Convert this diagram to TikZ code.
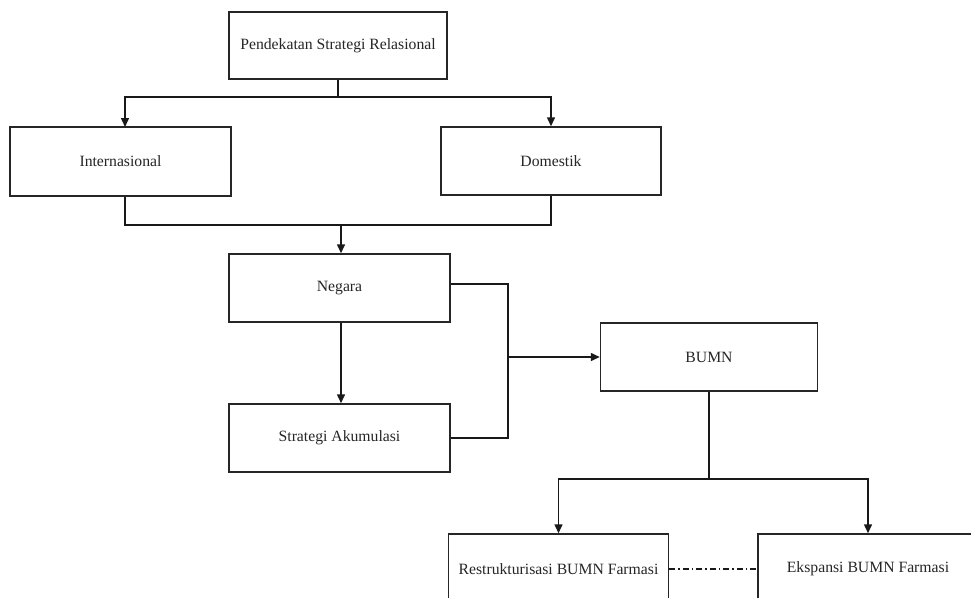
\documentclass[tikz,border=0pt]{standalone}
\usepackage{fontspec}
\setmainfont{Liberation Serif}
\usetikzlibrary{arrows.meta,calc}
\begin{document}
\begin{tikzpicture}[x=1pt,y=-1pt,
  box/.style={draw=black!85, line width=1.5pt, minimum width=220pt, minimum height=68pt, inner sep=0pt, font=\fontsize{15.7}{18}\selectfont, text=black!85},
  conn/.style={line width=1.5pt, draw=black!90},
  arr/.style={conn, -{Triangle[length=9pt,width=8pt]}},
  dashdot/.style={line width=1.2pt, draw=black!90, dash pattern=on 6pt off 3pt on 1.5pt off 3pt}]
\useasboundingbox (0,0) rectangle (971,597);
\clip (0,0) rectangle (971,597);
\fill[white] (0,0) rectangle (971,597);

\node[box, minimum width=218pt, minimum height=67pt] (top) at (338,45.5) {Pendekatan Strategi Relasional};
\node[box, minimum width=221pt, minimum height=69pt] (intl) at (120.5,161.5) {Internasional};
\node[box] (dom) at (551,161) {Domestik};
\node[box, minimum width=221pt] (neg) at (339.5,288) {Negara};
\node[box, minimum width=221pt] (strat) at (339.5,438) {Strategi Akumulasi};
\node[box, minimum width=217pt] (bumn) at (709,357) {BUMN};
\node[box, minimum height=70pt] (res) at (558.5,569) {Restrukturisasi BUMN Farmasi};
\node[box, minimum height=70pt] (eks) at (868,569) {Ekspansi BUMN Farmasi};

\coordinate (j1) at (338,97);
\coordinate (j2) at (341,225);
\coordinate (j3) at (508,357);
\coordinate (j4) at (709,479);
\coordinate (ia) at (125,127);

\draw[conn] (top.south) -- (j1);
\draw[arr] (j1) -| (ia);
\draw[arr] (j1) -| (dom.north);
\draw[conn] (ia |- intl.south) |- (j2);
\draw[conn] (dom.south) |- (j2);
\draw[arr] (j2) -- (j2 |- neg.north);
\draw[arr] (j2 |- neg.south) -- (j2 |- strat.north);
\draw[conn] ($(neg.east)+(0,-4)$) -| (j3);
\draw[conn] (strat.east) -| (j3);
\draw[arr] (j3) -- (bumn.west);
\draw[conn] (bumn.south) -- (j4);
\draw[arr] (j4) -| (res.north);
\draw[arr] (j4) -| (eks.north);
\draw[dashdot] (res.east) -- (eks.west);
\end{tikzpicture}
\end{document}
